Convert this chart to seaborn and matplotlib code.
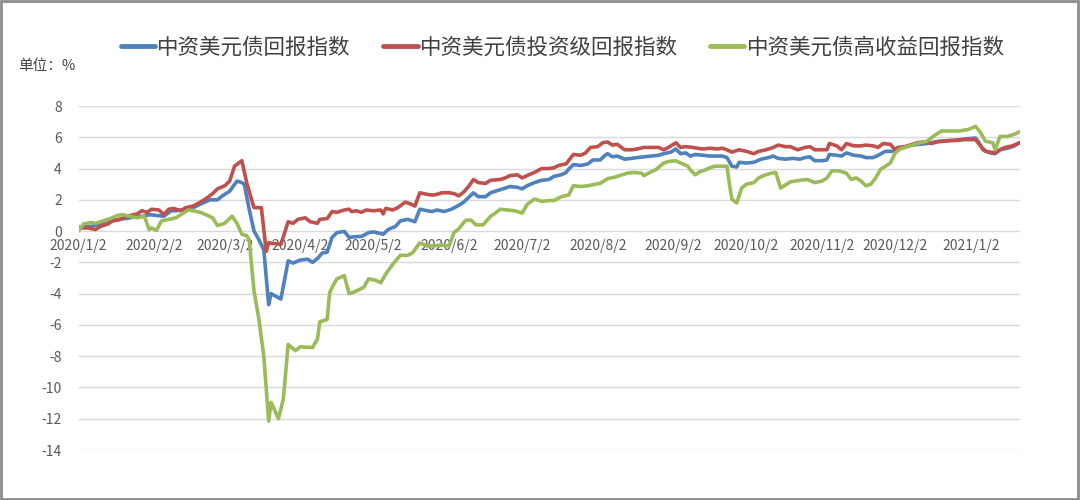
import matplotlib
matplotlib.use('Agg')
import matplotlib.pyplot as plt
import matplotlib.patches as mpatches
import pandas as pd
import seaborn as sns

# 起始日期（各序列的天数偏移以此为基准）
start_date = '2020-01-02'

series_names = ['中资美元债回报指数', '中资美元债投资级回报指数', '中资美元债高收益回报指数']
series_colors = ['#4F81BD', '#C0504D', '#9BBB59']

# 中资美元债回报指数
blue_day = [0, 5, 9, 13, 17, 21, 25, 27, 29, 32, 35, 38, 40, 44, 47, 51, 54, 57, 59, 62, 65, 67, 68, 70, 72, 74, 76, 78, 79, 83,
            86, 88, 91, 94, 96, 98, 100, 102, 104, 106, 109, 111, 114, 116, 119, 121, 125, 127, 130, 132, 135, 138, 140, 143, 145,
            147, 150, 153, 156, 158, 160, 162, 164, 167, 169, 172, 175, 177, 180, 182, 184, 187, 190, 193, 195, 198, 200, 201, 203,
            206, 209, 211, 214, 216, 217, 219, 221, 224, 227, 229, 232, 235, 238, 240, 243, 245, 247, 249, 251, 253, 256, 259, 262,
            264, 266, 268, 270, 271, 274, 277, 280, 283, 285, 287, 290, 293, 296, 298, 300, 302, 305, 307, 308, 311, 313, 315, 318,
            321, 323, 326, 328, 331, 334, 335, 338, 342, 348, 353, 359, 364, 368, 369, 371, 374, 376, 378, 381, 384, 386]
blue_val = [0.25, 0.3, 0.45, 0.65, 0.75, 0.85, 0.95, 0.95, 1.05, 1.0, 0.95, 1.3, 1.3, 1.4, 1.5, 1.8, 2.0, 2.0, 2.25, 2.55, 3.2, 3.1, 3.0, 1.4, 0.0, -0.55, -1.2, -4.7, -4.0, -4.35,
            -1.9, -2.05, -1.85, -1.8, -2.0, -1.75, -1.4, -1.35, -0.4, -0.1, -0.02, -0.4, -0.35, -0.35, -0.1, -0.05, -0.2, 0.1, 0.3, 0.65, 0.75, 0.6, 1.4, 1.3, 1.25,
            1.35, 1.25, 1.4, 1.65, 1.85, 2.15, 2.45, 2.2, 2.2, 2.45, 2.6, 2.75, 2.85, 2.8, 2.7, 2.9, 3.1, 3.25, 3.3, 3.5, 3.6, 3.75, 3.95, 4.25,
            4.2, 4.3, 4.55, 4.55, 4.85, 4.95, 4.75, 4.8, 4.6, 4.65, 4.7, 4.75, 4.8, 4.85, 4.95, 5.05, 5.25, 4.95, 5.0, 4.8, 4.9, 4.85, 4.8, 4.8,
            4.8, 4.7, 4.15, 4.1, 4.4, 4.35, 4.4, 4.6, 4.7, 4.8, 4.65, 4.6, 4.65, 4.6, 4.7, 4.75, 4.5, 4.5, 4.55, 4.9, 4.85, 4.8, 5.0, 4.85,
            4.8, 4.7, 4.7, 4.85, 5.1, 5.1, 5.2, 5.35, 5.5, 5.6, 5.75, 5.8, 5.9, 5.95, 5.75, 5.2, 5.0, 4.95, 5.2, 5.3, 5.45, 5.65]

# 中资美元债投资级回报指数
red_day = [0, 4, 7, 9, 12, 14, 17, 20, 24, 26, 28, 30, 33, 35, 37, 39, 42, 44, 47, 50, 53, 55, 57, 60, 62, 64, 67, 69, 71, 72,
           75, 77, 78, 83, 86, 88, 90, 93, 95, 98, 99, 102, 104, 106, 109, 111, 112, 114, 116, 118, 121, 124, 125, 126, 129, 131,
           134, 136, 138, 140, 143, 145, 147, 149, 152, 154, 156, 158, 160, 162, 164, 167, 169, 173, 175, 177, 180, 182, 184, 187,
           190, 193, 195, 197, 200, 201, 203, 206, 208, 210, 213, 215, 217, 219, 221, 224, 227, 229, 232, 235, 238, 240, 242, 245,
           247, 249, 252, 256, 259, 262, 264, 266, 268, 271, 274, 277, 279, 282, 285, 287, 290, 292, 295, 298, 300, 302, 305, 307,
           308, 311, 313, 315, 318, 321, 323, 326, 328, 330, 333, 335, 336, 339, 341, 344, 347, 350, 352, 355, 358, 361, 363, 368,
           370, 372, 374, 376, 378, 380, 383, 386]
red_val = [0.2, 0.2, 0.1, 0.3, 0.45, 0.65, 0.75, 0.95, 1.1, 1.3, 1.2, 1.4, 1.35, 1.05, 1.4, 1.45, 1.3, 1.5, 1.6, 1.85, 2.15, 2.4, 2.7, 2.9, 3.2, 4.15, 4.5, 3.1, 2.0, 1.5,
           1.5, -1.3, -0.75, -0.85, 0.6, 0.5, 0.75, 0.85, 0.6, 0.5, 0.75, 0.8, 1.25, 1.2, 1.35, 1.4, 1.25, 1.3, 1.2, 1.35, 1.3, 1.35, 1.1, 1.45, 1.35, 1.5,
           1.85, 1.75, 1.6, 2.45, 2.35, 2.3, 2.35, 2.45, 2.45, 2.4, 2.25, 2.5, 2.85, 3.3, 3.1, 3.05, 3.25, 3.3, 3.4, 3.55, 3.6, 3.4, 3.55, 3.75,
           4.0, 4.0, 4.05, 4.2, 4.3, 4.5, 4.9, 4.85, 5.0, 5.35, 5.4, 5.65, 5.7, 5.5, 5.55, 5.2, 5.2, 5.25, 5.35, 5.35, 5.35, 5.2, 5.35, 5.65,
           5.35, 5.4, 5.35, 5.25, 5.3, 5.25, 5.3, 5.2, 5.05, 5.2, 5.1, 4.95, 5.1, 5.2, 5.35, 5.5, 5.4, 5.4, 5.2, 5.35, 5.4, 5.2, 5.2, 5.2,
           5.6, 5.45, 5.2, 5.6, 5.45, 5.45, 5.5, 5.45, 5.35, 5.6, 5.55, 5.2, 5.35, 5.4, 5.5, 5.65, 5.7, 5.6, 5.7, 5.75, 5.8, 5.8, 5.85, 5.85,
           5.45, 5.1, 5.05, 5.0, 5.2, 5.35, 5.45, 5.65]

# 中资美元债高收益回报指数
green_day = [0, 2, 5, 7, 10, 13, 16, 18, 21, 24, 27, 29, 30, 32, 34, 37, 40, 42, 45, 47, 50, 53, 55, 57, 60, 63, 65, 67, 69, 70,
             72, 74, 76, 78, 79, 82, 84, 86, 89, 91, 96, 98, 99, 102, 103, 104, 106, 109, 111, 113, 117, 119, 122, 124, 126, 129,
             132, 135, 137, 140, 143, 145, 149, 152, 154, 156, 158, 159, 161, 163, 166, 169, 171, 173, 176, 179, 182, 184, 187, 190,
             193, 195, 198, 201, 203, 206, 209, 212, 214, 217, 220, 223, 225, 228, 231, 232, 235, 237, 240, 242, 245, 247, 250, 251,
             253, 255, 257, 259, 261, 264, 266, 267, 268, 270, 272, 274, 277, 279, 281, 284, 286, 288, 290, 292, 296, 299, 302, 305,
             307, 309, 312, 315, 317, 319, 321, 323, 325, 327, 329, 331, 333, 335, 337, 341, 344, 348, 351, 354, 361, 365, 368, 370,
             372, 375, 376, 378, 381, 384, 386]
green_val = [0.0, 0.45, 0.55, 0.5, 0.65, 0.8, 1.0, 1.05, 0.95, 0.85, 0.95, 0.1, 0.2, 0.05, 0.65, 0.75, 0.85, 1.05, 1.35, 1.3, 1.2, 1.0, 0.85, 0.35, 0.5, 0.95, 0.5, -0.2, -0.3, -0.55,
             -3.85, -5.65, -8.0, -12.15, -10.95, -12.0, -10.75, -7.25, -7.65, -7.4, -7.45, -6.9, -5.8, -5.65, -3.95, -3.6, -3.05, -2.85, -4.0, -3.9, -3.6, -3.05, -3.15, -3.3, -2.75, -2.1,
             -1.55, -1.55, -1.4, -0.75, -0.95, -0.95, -0.9, -0.95, -0.1, 0.15, 0.55, 0.7, 0.7, 0.4, 0.4, 0.95, 1.15, 1.4, 1.35, 1.3, 1.15, 1.7, 2.05, 1.9,
             1.95, 1.95, 2.2, 2.3, 2.9, 2.85, 2.9, 3.0, 3.05, 3.35, 3.45, 3.6, 3.7, 3.75, 3.7, 3.55, 3.8, 3.95, 4.35, 4.45, 4.5, 4.35, 4.15, 3.9,
             3.6, 3.8, 3.9, 4.05, 4.15, 4.15, 4.15, 3.0, 2.05, 1.8, 2.75, 3.0, 3.1, 3.4, 3.55, 3.7, 3.75, 2.75, 2.95, 3.15, 3.25, 3.3, 3.1, 3.2,
             3.4, 3.85, 3.85, 3.7, 3.3, 3.4, 3.2, 2.9, 3.0, 3.4, 3.95, 4.15, 4.35, 5.0, 5.25, 5.45, 5.6, 5.75, 6.1, 6.4, 6.4, 6.5, 6.7, 6.3,
             5.75, 5.65, 5.2, 6.05, 6.05, 6.2, 6.35]

tick_labels = ['2020/1/2', '2020/2/2', '2020/3/2', '2020/4/2', '2020/5/2', '2020/6/2', '2020/7/2',
               '2020/8/2', '2020/9/2', '2020/10/2', '2020/11/2', '2020/12/2', '2021/1/2']
y_ticks = [8, 6, 4, 2, 0, -2, -4, -6, -8, -10, -12, -14]

# 整理成长表
frames = []
for name, days, vals in zip(series_names, [blue_day, red_day, green_day], [blue_val, red_val, green_val]):
    frames.append(pd.DataFrame({
        'date': pd.Timestamp(start_date) + pd.to_timedelta(days, unit='D'),
        'value': vals,
        'series': name,
    }))
df = pd.concat(frames, ignore_index=True)

sns.set_style('white')
plt.rcParams['font.family'] = ['Noto Sans CJK SC', 'DejaVu Sans']
plt.rcParams['axes.unicode_minus'] = False

fig = plt.figure(figsize=(10.8, 5.0), dpi=100)
ax = fig.add_axes([0.0727, 0.1, 0.8713, 0.688])

sns.lineplot(data=df, x='date', y='value', hue='series', hue_order=series_names,
             palette=dict(zip(series_names, series_colors)), estimator=None,
             linewidth=2.6, legend=False, ax=ax)

ax.set_ylim(-14, 8)
ax.set_yticks(y_ticks)
ax.set_xlim(df['date'].min(), df['date'].max())
ax.set_xticks(pd.to_datetime(tick_labels, format='%Y/%m/%d'))
ax.set_xticklabels(tick_labels)
ax.set_xlabel('')
ax.set_ylabel('')

ax.yaxis.grid(True, color='#D9D9D9', linewidth=1)
ax.xaxis.grid(False)
ax.set_axisbelow(True)
for side in ['top', 'right', 'left']:
    ax.spines[side].set_visible(False)
ax.spines['bottom'].set_position(('data', 0))
ax.spines['bottom'].set_visible(False)
ax.tick_params(axis='both', length=0, labelsize=10, labelcolor='#595959')
ax.tick_params(axis='y', pad=12)
ax.tick_params(axis='x', pad=6)

handles = ax.get_lines()[:3]
fig.legend(handles, series_names, loc='center', bbox_to_anchor=(0.521, 0.904), ncol=3,
           frameon=False, fontsize=15.5, handlelength=1.6, handletextpad=0.1,
           columnspacing=1.5, labelcolor='#404040')
for lh in fig.legends[0].get_lines():
    lh.set_linewidth(3.5)

fig.text(0.017, 0.868, '单位：%', fontsize=10.5, color='#404040', va='center', ha='left')

# 外框
fig.patches.append(mpatches.Rectangle((0.001, 0.002), 0.997, 0.996, transform=fig.transFigure,
                                      fill=False, edgecolor='#8C8C8C', linewidth=2))

fig.savefig('out.png', dpi=100, facecolor='white')
